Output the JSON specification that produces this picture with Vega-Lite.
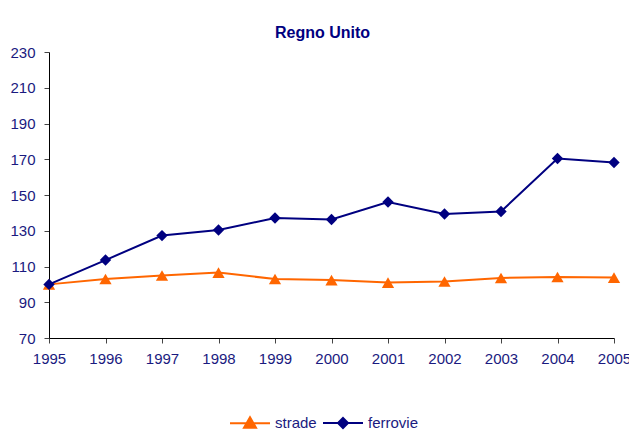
{
  "$schema": "https://vega.github.io/schema/vega-lite/v6.json",
  "width": 565,
  "height": 286,
  "autosize": "none",
  "padding": {"left": 49, "top": 52, "right": 15, "bottom": 100},
  "background": "white",
  "title": {"text": "Regno Unito", "font": "Liberation Sans", "fontSize": 16, "fontWeight": "bold", "color": "#000080", "offset": 4, "dx": -9},
  "data": {"values": [
    {"year": 1995, "serie": "strade", "value": 100},
    {"year": 1996, "serie": "strade", "value": 103},
    {"year": 1997, "serie": "strade", "value": 105},
    {"year": 1998, "serie": "strade", "value": 106.6},
    {"year": 1999, "serie": "strade", "value": 103},
    {"year": 2000, "serie": "strade", "value": 102.4},
    {"year": 2001, "serie": "strade", "value": 101},
    {"year": 2002, "serie": "strade", "value": 101.6},
    {"year": 2003, "serie": "strade", "value": 103.6},
    {"year": 2004, "serie": "strade", "value": 104.1},
    {"year": 2005, "serie": "strade", "value": 103.8},
    {"year": 1995, "serie": "ferrovie", "value": 100},
    {"year": 1996, "serie": "ferrovie", "value": 113.6},
    {"year": 1997, "serie": "ferrovie", "value": 127.3},
    {"year": 1998, "serie": "ferrovie", "value": 130.4},
    {"year": 1999, "serie": "ferrovie", "value": 137.1},
    {"year": 2000, "serie": "ferrovie", "value": 136.3},
    {"year": 2001, "serie": "ferrovie", "value": 146.1},
    {"year": 2002, "serie": "ferrovie", "value": 139.4},
    {"year": 2003, "serie": "ferrovie", "value": 140.8},
    {"year": 2004, "serie": "ferrovie", "value": 170.4},
    {"year": 2005, "serie": "ferrovie", "value": 168.2}
  ]},
  "encoding": {
    "x": {"field": "year", "type": "quantitative", "scale": {"domain": [1995, 2005], "nice": false, "zero": false},
      "axis": {"title": null, "values": [1995,1996,1997,1998,1999,2000,2001,2002,2003,2004,2005], "format": "d", "grid": false,
        "domainColor": "#000000", "tickColor": "#444444", "tickSize": 5, "labelPadding": 8,
        "labelFont": "Liberation Sans", "labelFontSize": 15, "labelColor": "#1a1a80", "labelFlush": false}},
    "y": {"field": "value", "type": "quantitative", "scale": {"domain": [70, 230], "nice": false, "zero": false},
      "axis": {"title": null, "values": [70,90,110,130,150,170,190,210,230], "grid": false,
        "domainColor": "#000000", "tickColor": "#444444", "tickSize": 5, "labelPadding": 9,
        "labelFont": "Liberation Sans", "labelFontSize": 15, "labelColor": "#1a1a80"}},
    "color": {"field": "serie", "type": "nominal", "scale": {"domain": ["strade", "ferrovie"], "range": ["#FF6600", "#000080"]},
       "legend": {"title": null, "orient": "none", "direction": "horizontal", "legendX": 190, "legendY": 360,
         "symbolSize": 400, "symbolStrokeWidth": 2, "labelOffset": 14, "columnPadding": 2,
         "labelFont": "Liberation Sans", "labelFontSize": 15, "labelColor": "#1a1a80",
         "encode": {"symbols": {"update": {
           "shape": {"signal": "datum.value === 'strade' ? 'M-2,0H2M0,-0.6L0.6,0.45L-0.6,0.45Z' : 'M-2,0H2M0,-0.5L0.5,0L0,0.5L-0.5,0Z'"},
           "fill": {"signal": "datum.value === 'strade' ? '#FF6600' : '#000080'"},
           "stroke": {"signal": "datum.value === 'strade' ? '#FF6600' : '#000080'"},
           "fillOpacity": {"value": 1},
           "strokeWidth": {"value": 2}
         }}}}}
  },
  "layer": [
    {"mark": {"type": "line", "strokeWidth": 2}},
    {"transform": [{"filter": "datum.serie === 'strade'"}],
     "mark": {"type": "point", "filled": true, "opacity": 1, "shape": "triangle-up", "size": 150}},
    {"transform": [{"filter": "datum.serie === 'ferrovie'"}],
     "mark": {"type": "point", "filled": true, "opacity": 1, "shape": "diamond", "size": 130}}
  ],
  "config": {"view": {"stroke": null}}
}
